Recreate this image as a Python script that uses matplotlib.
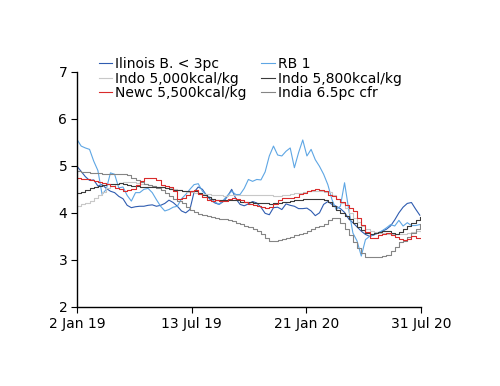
import numpy as np
import pandas as pd
import matplotlib
matplotlib.use('Agg')
import matplotlib.pyplot as plt

# weekly observations, 2 Jan 2019 onwards
dates = pd.date_range('2019-01-02', periods=83, freq='7D')

illinois = [4.99, 4.88, 4.77, 4.69, 4.70, 4.57, 4.60, 4.52, 4.46, 4.43,
            4.35, 4.30, 4.16, 4.11, 4.13, 4.14, 4.14, 4.16, 4.17, 4.14,
            4.16, 4.20, 4.27, 4.22, 4.14, 4.04, 4.00, 4.07, 4.44, 4.55,
            4.50, 4.37, 4.27, 4.21, 4.18, 4.24, 4.35, 4.50, 4.30, 4.18,
            4.15, 4.19, 4.24, 4.21, 4.12, 3.99, 3.96, 4.11, 4.12, 4.07,
            4.19, 4.16, 4.14, 4.09, 4.09, 4.10, 4.04, 3.94, 4.00, 4.18,
            4.24, 4.18, 4.14, 4.09, 4.01, 3.87, 3.79, 3.70, 3.61, 3.54,
            3.50, 3.53, 3.57, 3.61, 3.65, 3.72, 3.85, 4.00, 4.12, 4.20,
            4.22, 4.08, 3.95]

rb1 = [5.56, 5.42, 5.38, 5.35, 5.10, 4.90, 4.39, 4.50, 4.85, 4.82,
       4.53, 4.55, 4.37, 4.25, 4.43, 4.43, 4.50, 4.52, 4.43, 4.28,
       4.14, 4.04, 4.07, 4.12, 4.14, 4.30, 4.39, 4.50, 4.60, 4.62,
       4.46, 4.37, 4.32, 4.23, 4.18, 4.27, 4.37, 4.46, 4.39, 4.39,
       4.52, 4.71, 4.67, 4.71, 4.70, 4.87, 5.21, 5.42, 5.23, 5.21,
       5.31, 5.38, 4.96, 5.28, 5.55, 5.21, 5.35, 5.13, 4.99, 4.82,
       4.60, 4.28, 4.07, 4.14, 4.64, 4.07, 3.57, 3.40, 3.08, 3.43,
       3.50, 3.54, 3.57, 3.62, 3.68, 3.75, 3.72, 3.84, 3.72, 3.79,
       3.73, 3.73, 3.75]

indo5000 = [4.14, 4.18, 4.21, 4.26, 4.31, 4.37, 4.45, 4.52, 4.58, 4.62,
            4.64, 4.66, 4.66, 4.65, 4.64, 4.62, 4.61, 4.60, 4.58, 4.56,
            4.55, 4.53, 4.52, 4.50, 4.48, 4.47, 4.45, 4.44, 4.43, 4.42,
            4.41, 4.40, 4.38, 4.37, 4.37, 4.36, 4.37, 4.37, 4.37, 4.38,
            4.38, 4.39, 4.39, 4.39, 4.38, 4.38, 4.37, 4.36, 4.36, 4.37,
            4.38, 4.40, 4.42, 4.43, 4.44, 4.46, 4.47, 4.47, 4.46, 4.45,
            4.44, 4.38, 4.30, 4.20, 4.10, 4.00, 3.90, 3.80, 3.72, 3.66,
            3.62, 3.60, 3.58, 3.57, 3.56, 3.55, 3.54, 3.55, 3.56, 3.57,
            3.59, 3.61, 3.62]

indo5800 = [4.42, 4.45, 4.48, 4.52, 4.55, 4.57, 4.60, 4.61, 4.62, 4.62,
            4.63, 4.62, 4.60, 4.58, 4.57, 4.56, 4.55, 4.55, 4.54, 4.54,
            4.55, 4.53, 4.50, 4.48, 4.48, 4.47, 4.47, 4.47, 4.46, 4.42,
            4.38, 4.33, 4.29, 4.28, 4.28, 4.28, 4.27, 4.27, 4.27, 4.24,
            4.22, 4.22, 4.21, 4.20, 4.20, 4.20, 4.19, 4.20, 4.21, 4.23,
            4.24, 4.26, 4.27, 4.28, 4.29, 4.29, 4.30, 4.30, 4.29, 4.27,
            4.22, 4.15, 4.06, 4.00, 3.94, 3.86, 3.78, 3.70, 3.63, 3.58,
            3.55, 3.57, 3.60, 3.62, 3.61, 3.57, 3.55, 3.60, 3.66, 3.72,
            3.78, 3.85, 3.91]

newc = [4.74, 4.72, 4.71, 4.70, 4.67, 4.65, 4.64, 4.61, 4.57, 4.52,
        4.50, 4.47, 4.49, 4.51, 4.60, 4.67, 4.74, 4.74, 4.74, 4.70,
        4.60, 4.58, 4.55, 4.47, 4.30, 4.31, 4.39, 4.46, 4.48, 4.41,
        4.34, 4.28, 4.25, 4.28, 4.26, 4.26, 4.29, 4.32, 4.29, 4.27,
        4.24, 4.19, 4.16, 4.14, 4.13, 4.11, 4.13, 4.18, 4.27, 4.31,
        4.32, 4.32, 4.34, 4.40, 4.43, 4.46, 4.48, 4.50, 4.48, 4.46,
        4.38, 4.35, 4.29, 4.23, 4.16, 4.11, 4.04, 3.89, 3.75, 3.59,
        3.47, 3.47, 3.52, 3.56, 3.57, 3.53, 3.49, 3.45, 3.43, 3.45,
        3.50, 3.47, 3.47]

india = [4.88, 4.87, 4.86, 4.85, 4.84, 4.84, 4.83, 4.82, 4.82, 4.82,
         4.83, 4.82, 4.80, 4.75, 4.70, 4.66, 4.62, 4.60, 4.57, 4.53,
         4.49, 4.42, 4.36, 4.30, 4.25, 4.20, 4.13, 4.07, 4.02, 3.98,
         3.96, 3.93, 3.91, 3.89, 3.87, 3.86, 3.85, 3.82, 3.79, 3.76,
         3.73, 3.70, 3.66, 3.61, 3.55, 3.46, 3.41, 3.41, 3.43, 3.44,
         3.46, 3.48, 3.52, 3.54, 3.58, 3.62, 3.66, 3.69, 3.72, 3.77,
         3.85, 3.90, 3.88, 3.78, 3.65, 3.52, 3.38, 3.25, 3.15, 3.07,
         3.06, 3.06, 3.06, 3.08, 3.10, 3.18, 3.28, 3.38, 3.40, 3.48,
         3.57, 3.66, 3.76]

xtick_dates = ['2019-01-02', '2019-07-13', '2020-01-21', '2020-07-31']
xtick_labels = ['2 Jan 19', '13 Jul 19', '21 Jan 20', '31 Jul 20']

fig = plt.figure(figsize=(5, 3.86), dpi=100)
ax = fig.add_axes([0.154, 0.205, 0.688, 0.609])

h_ill, = ax.plot(dates, illinois, color='#2f5cb0', lw=0.8, label='Ilinois B. < 3pc')
h_rb, = ax.plot(dates, rb1, color='#5ea6e4', lw=0.8, label='RB 1')
h_i50, = ax.plot(dates, indo5000, color='#c8c8c8', lw=0.8, drawstyle='steps-post',
                 label='Indo 5,000kcal/kg')
h_ind, = ax.plot(dates, india, color='#858585', lw=0.8, drawstyle='steps-post',
                 label='India 6.5pc cfr')
h_i58, = ax.plot(dates, indo5800, color='#3a3a3a', lw=0.8, drawstyle='steps-post',
                 label='Indo 5,800kcal/kg')
h_nw, = ax.plot(dates, newc, color='#d92b2b', lw=0.8, drawstyle='steps-post',
                label='Newc 5,500kcal/kg')

ax.set_xlim(pd.Timestamp('2019-01-02'), pd.Timestamp('2020-07-31'))
ax.set_ylim(2, 7)
ax.set_yticks([2, 3, 4, 5, 6, 7])
ax.set_xticks([pd.Timestamp(d) for d in xtick_dates])
ax.set_xticklabels(xtick_labels)

for s in ['top', 'right']:
    ax.spines[s].set_visible(False)
for s in ['left', 'bottom']:
    ax.spines[s].set_linewidth(1.0)
ax.tick_params(direction='out', length=4, width=0.8, labelsize=10, pad=3)

handles = [h_ill, h_i50, h_nw, h_rb, h_i58, h_ind]
fig.legend(handles, [h.get_label() for h in handles],
           ncol=2, loc='upper left', bbox_to_anchor=(0.186, 0.867),
           frameon=False, fontsize=10, handlelength=1.0, handletextpad=0.2,
           columnspacing=1.05, labelspacing=0.05, borderaxespad=0)

fig.savefig('out.png', dpi=100)
